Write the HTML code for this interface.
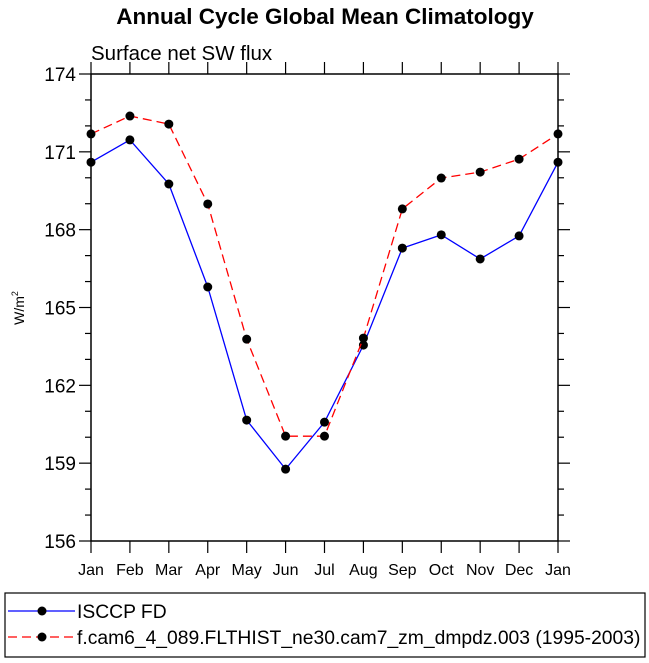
<!DOCTYPE html>
<html><head><meta charset="utf-8"><style>
body{margin:0;background:#fff;width:649px;height:663px;overflow:hidden}
svg{display:block;font-family:"Liberation Sans",sans-serif}
</style></head><body>
<svg id="chart" width="649" height="663">
<text x="325" y="24" text-anchor="middle" font-size="22.5" font-weight="bold">Annual Cycle Global Mean Climatology</text>
<text x="91" y="60" font-size="20.5">Surface net SW flux</text>
<text transform="translate(24,308) rotate(-90)" text-anchor="middle" font-size="14">W/m<tspan font-size="9" dy="-6">2</tspan></text>
<g id="axes"></g><g id="series"></g>
<rect x="5" y="593" width="640" height="64" fill="none" stroke="#000" stroke-width="1.2"/>
<line x1="8" y1="611" x2="75" y2="611" stroke="#00f" stroke-width="1.3"/>
<circle cx="42" cy="611" r="4.5" fill="#000"/>
<text x="77" y="618" font-size="19.3">ISCCP FD</text>
<line x1="8" y1="637" x2="75" y2="637" stroke="#f00" stroke-width="1.3" stroke-dasharray="9,5"/>
<circle cx="42" cy="637" r="4.5" fill="#000"/>
<text x="77" y="644" font-size="19.3">f.cam6_4_089.FLTHIST_ne30.cam7_zm_dmpdz.003 (1995-2003)</text>
</svg>
<script>
const months=["Jan","Feb","Mar","Apr","May","Jun","Jul","Aug","Sep","Oct","Nov","Dec","Jan"];
const yTicks=[156,159,162,165,168,171,174];
const isccp=[170.6,171.46,169.76,165.79,160.66,158.77,160.58,163.55,167.29,167.8,166.87,167.76,170.6];
const model=[171.69,172.38,172.07,168.99,163.78,160.04,160.04,163.82,168.8,169.99,170.22,170.72,171.69];
const NS="http://www.w3.org/2000/svg";
const L=91,R=558,T=74,B=541;
const xs=i=>L+(R-L)*i/(months.length-1);
const ys=v=>B-(v-156)/(174-156)*(B-T);
const ax=document.getElementById('axes'),se=document.getElementById('series');
function mk(tag,at,p){const e=document.createElementNS(NS,tag);for(const k in at)e.setAttribute(k,at[k]);p.appendChild(e);return e;}
const fr=mk('rect',{x:L,y:T,width:R-L,height:B-T,fill:'none',stroke:'#000','stroke-width':1.5},ax);


months.forEach((m,i)=>{const x=xs(i);
mk('line',{x1:x,y1:B,x2:x,y2:B+12,stroke:'#000','stroke-width':1.2},ax);
mk('line',{x1:x,y1:T,x2:x,y2:T-12,stroke:'#000','stroke-width':1.2},ax);
const t=mk('text',{x:x,y:B+34,'text-anchor':'middle','font-size':16},ax);t.textContent=m;

});
for(let v=156;v<=174;v++){const y=ys(v),mj=(v-156)%3===0,len=mj?12:6;
mk('line',{x1:L,y1:y,x2:L-len,y2:y,stroke:'#000','stroke-width':1.2},ax);
mk('line',{x1:R,y1:y,x2:R+len,y2:y,stroke:'#000','stroke-width':1.2},ax);}
yTicks.forEach(v=>{const t=mk('text',{x:L-7+0-0-9+1,y:ys(v)+7,'text-anchor':'end','font-size':19},ax);t.textContent=v;

});
function draw(d,col,dash,name){
const p=mk('polyline',{points:d.map((v,i)=>xs(i)+','+ys(v)).join(' '),fill:'none',stroke:col,'stroke-width':1.3,'stroke-dasharray':dash},se);


d.forEach((v,i)=>{const c=mk('circle',{cx:xs(i),cy:ys(v),r:4.5,fill:'#000'},se);

});}
draw(isccp,'#00f','none','isccp');
draw(model,'#f00','9,5','model');
</script>
</body></html>
